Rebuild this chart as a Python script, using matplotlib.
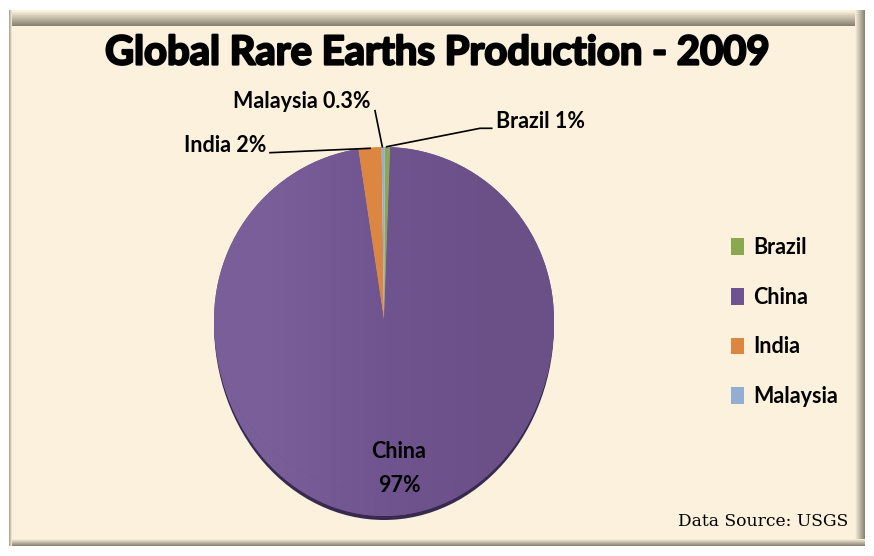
import matplotlib
matplotlib.use("Agg")
import matplotlib.pyplot as plt
import matplotlib.patheffects as pe
from matplotlib.patches import Wedge, Rectangle
from matplotlib.transforms import Affine2D
import numpy as np

W, H = 874, 556
PAPER = "#FBF1DC"
EDGE = "#85806F"

categories = ["Brazil", "China", "India", "Malaysia"]
shares = [0.5, 97.0, 2.2, 0.3]
colors = ["#8AA94F", "#6F5290", "#DC8741", "#94ADD3"]
title = "Global Rare Earths Production - 2009"
source = "Data Source: USGS"


def bevel(ax, extent, horizontal, start, end):
    # little gradient strip for the picture frame
    c0 = np.array(matplotlib.colors.to_rgb(start))
    c1 = np.array(matplotlib.colors.to_rgb(end))
    t = np.linspace(0, 1, 32)
    strip = c0[None, :] * (1 - t[:, None]) + c1[None, :] * t[:, None]
    strip = strip[None, :, :] if horizontal else strip[:, None, :]
    ax.imshow(strip, extent=extent, aspect="auto", interpolation="bilinear", zorder=2)


plt.rcParams["font.family"] = ["Lato", "DejaVu Sans"]
fig = plt.figure(figsize=(W / 100, H / 100), dpi=100, facecolor="white")

# background layer in pixel coordinates
bg = fig.add_axes([0, 0, 1, 1], zorder=1)
bg.add_patch(Rectangle((9, 10), 856, 536, fc=PAPER, ec="none", zorder=1))
bevel(bg, (9, 865, 26, 11), False, PAPER, EDGE)
bevel(bg, (855, 865, 546, 10), True, PAPER, EDGE)
bevel(bg, (9, 865, 546, 539), False, PAPER, EDGE)
bevel(bg, (9, 12, 546, 10), True, "#A09B8C", PAPER)
bg.set_xlim(0, W)
bg.set_ylim(H, 0)
bg.axis("off")

grad = np.array([[[0.475, 0.37, 0.60], [0.44, 0.33, 0.56], [0.42, 0.31, 0.53]]])

# lower part of the tilted pie, the apex does not sit in the middle of the oval
low = Affine2D().scale(170, 196).translate(384, 320) + bg.transData
shadow = Affine2D().scale(170, 196).translate(384, 324) + bg.transData
bg.add_patch(Wedge((0, 0), 1, 0, 180, transform=shadow, fc="#37294F", ec="none", zorder=3))
lower = Wedge((0, 0), 1, 0, 180, transform=low, fc=colors[1], ec="none", zorder=4)
bg.add_patch(lower)
im = bg.imshow(grad, extent=(214, 554, 556, 0), aspect="auto", interpolation="bilinear", zorder=5)
im.set_clip_path(lower)
bg.set_xlim(0, W)
bg.set_ylim(H, 0)

# pie proper, upper radius 173px around apex at (384, 320)
ax = fig.add_axes([214 / W, 1 - 493 / H, 340 / W, 346 / H], zorder=2)
wedges, _ = ax.pie(shares, colors=colors, startangle=89.7, counterclock=False, radius=1)
ax.set_aspect("auto")
im2 = ax.imshow(grad, extent=(-1, 1, -1, 1), aspect="auto", interpolation="bilinear", zorder=5)
im2.set_clip_path(wedges[1])
ax.set_xlim(-1, 1)
ax.set_ylim(-1, 1)
ax.patch.set_visible(False)

# texts and leader lines on top
top = fig.add_axes([0, 0, 1, 1], zorder=3)
top.set_xlim(0, W)
top.set_ylim(H, 0)
top.axis("off")
top.patch.set_visible(False)

top.text(438, 53, title, ha="center", va="center", fontsize=28.8, fontweight="bold", color="black",
         path_effects=[pe.withStroke(linewidth=1.6, foreground="black")])

label_style = dict(fontsize=15.5, fontweight="bold", color="black", va="center")
top.text(233, 102, "Malaysia 0.3%", ha="left", **label_style)
top.text(496, 122, "Brazil 1%", ha="left", **label_style)
top.text(184, 145, "India 2%", ha="left", **label_style)
top.text(399, 452, "China", ha="center", **label_style)
top.text(399, 485, "97%", ha="center", **label_style)

top.plot([375, 382.3], [110.7, 146.7], color="black", lw=1.2)
top.plot([491.7, 480, 386.7], [128.3, 128.3, 146.7], color="black", lw=1.2)
top.plot([270, 370], [152.7, 148.3], color="black", lw=1.2)

leg = top.legend(wedges, categories, loc="upper left", bbox_to_anchor=(714 / W, 1 - 220 / H),
                 frameon=False, fontsize=15.5, handlelength=0.6, handleheight=0.82,
                 handletextpad=0.43, labelspacing=1.33, borderpad=0.3)
for t in leg.get_texts():
    t.set_fontweight("bold")

top.text(848, 521, source, ha="right", va="center", fontsize=12.3, color="black",
         family=["DejaVu Serif"])

fig.savefig("out.png", dpi=100)
